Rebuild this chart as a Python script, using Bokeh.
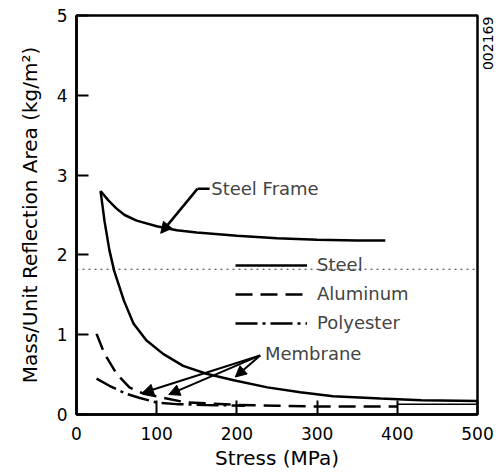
import math
from bokeh.plotting import figure
from bokeh.models import (Legend, LegendItem, Arrow, NormalHead, Label, Span,
                          Range1d, FixedTicker, LinearAxis)
from bokeh.embed import file_html
from bokeh.resources import INLINE

# ---- data ----
frame_x = [30, 40, 50, 60, 75, 100, 125, 150, 200, 250, 300, 350, 385]
frame_y = [2.80, 2.68, 2.58, 2.50, 2.43, 2.36, 2.31, 2.28, 2.24, 2.21, 2.19, 2.18, 2.18]

steel_x = [30, 35, 41, 47, 59, 71, 87, 108, 133, 162, 196, 238, 279, 320, 379, 430, 500]
steel_y = [2.80, 2.42, 2.06, 1.80, 1.43, 1.14, 0.93, 0.76, 0.61, 0.51, 0.43, 0.34, 0.28, 0.23, 0.20, 0.18, 0.17]

alum_x = [25, 35, 50, 66, 84, 108, 137, 162, 200, 250, 300, 350, 400]
alum_y = [1.01, 0.76, 0.51, 0.34, 0.26, 0.21, 0.15, 0.14, 0.12, 0.11, 0.10, 0.10, 0.10]
alum_tail_x = [400, 500]
alum_tail_y = [0.13, 0.13]

poly_x = [25, 41, 62, 78, 100, 125, 160, 210]
poly_y = [0.45, 0.36, 0.26, 0.21, 0.15, 0.13, 0.12, 0.11]

x_ticks = [0, 100, 200, 300, 400, 500]
y_ticks = [0, 1, 2, 3, 4, 5]

legend_labels = ["Steel", "Aluminum", "Polyester"]
figure_code = "002169"

# annotations: (x_start, y_start, x_end, y_end)
frame_arrow = [151, 2.83, 105, 2.27]
frame_leader = [151, 2.83, 166, 2.83]
frame_text = [168, 2.83, "Steel Frame"]
membrane_arrows = [[229, 0.74, 82, 0.27], [229, 0.74, 115, 0.25], [229, 0.74, 198, 0.47]]
membrane_text = [235, 0.76, "Membrane"]
scan_line_y = 1.82
code_pos = 4.72

FONT = "DejaVu Sans"

p = figure(width=497, height=472, output_backend="svg", toolbar_location=None,
           x_range=Range1d(0, 500), y_range=Range1d(0, 5),
           frame_width=401, frame_height=399,
           min_border_left=76, min_border_top=15, min_border_right=20, min_border_bottom=58)
p.background_fill_color = "white"
p.border_fill_color = "white"
p.outline_line_color = "black"
p.outline_line_width = 2.5
p.xgrid.visible = False
p.ygrid.visible = False

for ax in (p.xaxis[0], p.yaxis[0]):
    ax.axis_line_width = 2.5
    ax.major_tick_line_width = 2
    ax.major_tick_out = 0
    ax.minor_tick_line_color = None
    ax.major_label_text_font = FONT
    ax.major_label_text_font_size = "17px"
    ax.major_label_text_color = "black"
    ax.axis_label_text_font = FONT
    ax.axis_label_text_font_size = "20px"
    ax.axis_label_text_font_style = "normal"
    ax.axis_label_text_color = "black"

p.xaxis.ticker = FixedTicker(ticks=x_ticks)
p.yaxis.ticker = FixedTicker(ticks=y_ticks)
p.xaxis.major_tick_in = 14
p.yaxis.major_tick_in = 12
p.xaxis.major_label_standoff = 12
p.yaxis.major_label_standoff = 9
p.xaxis.axis_label = "Stress (MPa)"
p.yaxis.axis_label = "Mass/Unit Reflection Area (kg/m\u00b2)"
p.xaxis.axis_label_standoff = 3
p.yaxis.axis_label_standoff = 12

# figure code printed vertically at the right edge
code_axis = LinearAxis(ticker=FixedTicker(ticks=[code_pos]),
                       major_label_overrides={code_pos: figure_code},
                       major_label_orientation=math.pi / 2,
                       major_label_standoff=5,
                       major_label_text_font=FONT,
                       major_label_text_font_size="14px",
                       major_label_text_color="black",
                       axis_line_color=None, major_tick_line_color=None,
                       minor_tick_line_color=None)
p.add_layout(code_axis, "right")

# scanned fold line
p.add_layout(Span(location=scan_line_y, dimension="width", line_color="black",
                  line_alpha=0.8, line_width=1, line_dash="2 4"))

p.line(frame_x, frame_y, line_color="black", line_width=2.5)
r_steel = p.line(steel_x, steel_y, line_color="black", line_width=2.5)
r_alum = p.line(alum_x, alum_y, line_color="black", line_width=2.5, line_dash="17 8")
p.line(alum_tail_x, alum_tail_y, line_color="black", line_width=1.5)
r_poly = p.line(poly_x, poly_y, line_color="black", line_width=2.5, line_dash="22 5 3 5")

legend = Legend(items=[LegendItem(label=legend_labels[0], renderers=[r_steel]),
                       LegendItem(label=legend_labels[1], renderers=[r_alum]),
                       LegendItem(label=legend_labels[2], renderers=[r_poly])],
                location=(159, 81), orientation="vertical",
                glyph_width=72, glyph_height=20, label_height=20, spacing=8,
                label_standoff=10, padding=0, margin=0,
                label_text_font=FONT, label_text_font_size="18px",
                background_fill_alpha=0, border_line_alpha=0)
p.add_layout(legend, "center")

head = lambda: NormalHead(size=11, fill_color="black", line_color="black", line_width=1)
p.add_layout(Arrow(end=head(), x_start=frame_arrow[0], y_start=frame_arrow[1],
                   x_end=frame_arrow[2], y_end=frame_arrow[3], line_width=2.5))
p.add_layout(Arrow(end=None, x_start=frame_leader[0], y_start=frame_leader[1],
                   x_end=frame_leader[2], y_end=frame_leader[3], line_width=2.5))
p.add_layout(Label(x=frame_text[0], y=frame_text[1], text=frame_text[2],
                   text_font=FONT, text_font_size="18px", text_baseline="middle",
                   text_align="left"))
for a in membrane_arrows:
    p.add_layout(Arrow(end=head(), x_start=a[0], y_start=a[1], x_end=a[2], y_end=a[3],
                       line_width=2))
p.add_layout(Label(x=membrane_text[0], y=membrane_text[1], text=membrane_text[2],
                   text_font=FONT, text_font_size="18px", text_baseline="middle",
                   text_align="left"))

open("out.html", "w").write(file_html(p, INLINE))
